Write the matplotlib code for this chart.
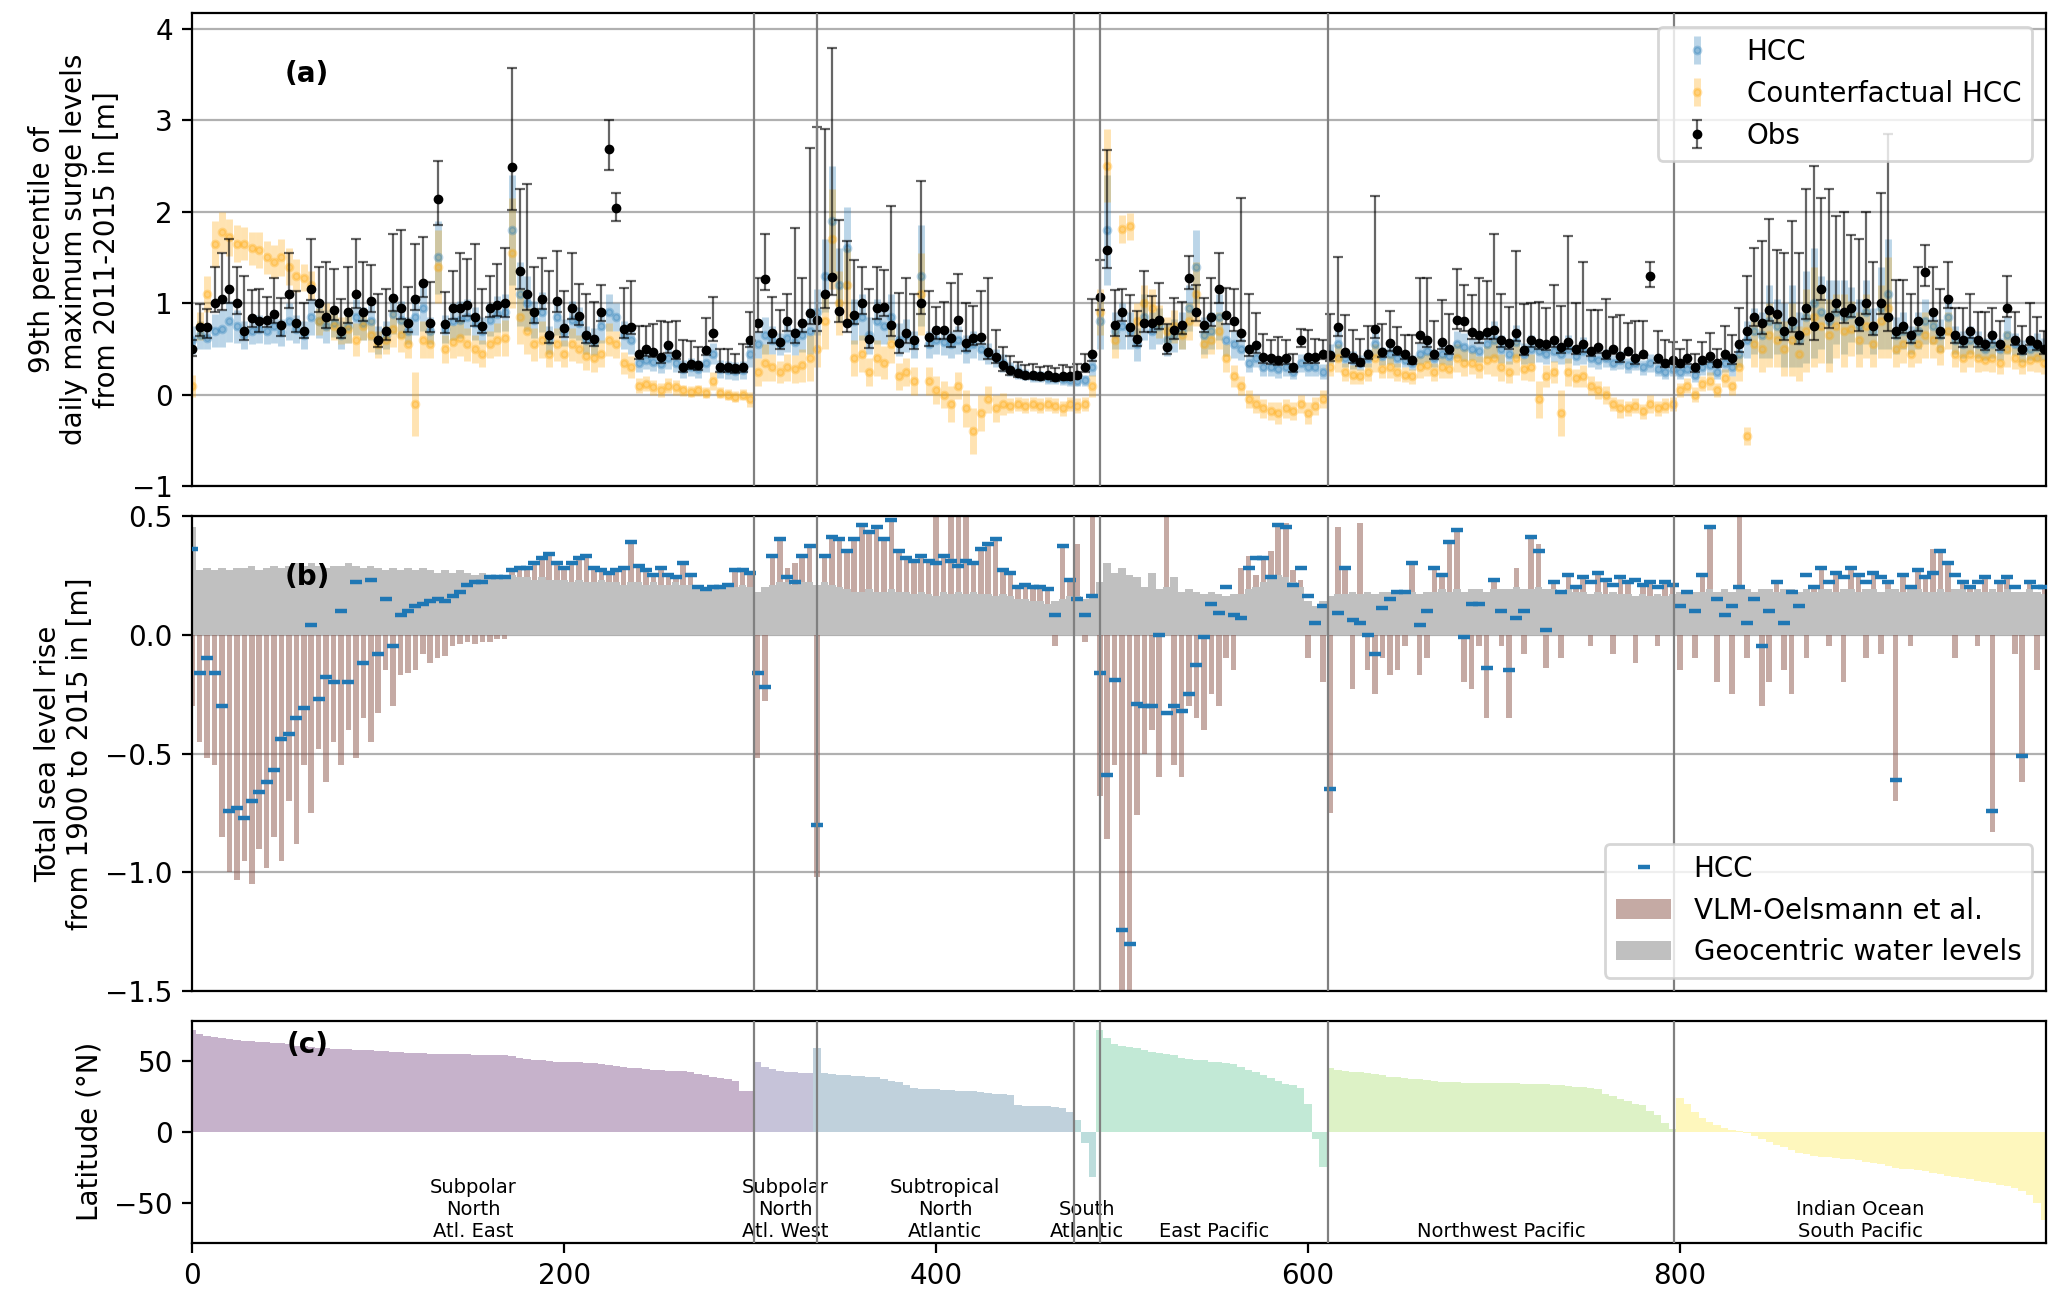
import numpy as np
import matplotlib.pyplot as plt

plt.rcParams['font.size'] = 10

# regions along the x axis (station index)
region_names = ['Subpolar\nNorth\nAtl. East', 'Subpolar\nNorth\nAtl. West', 'Subtropical\nNorth\nAtlantic',
                'South\nAtlantic', 'East Pacific', 'Northwest Pacific', 'Indian Ocean\nSouth Pacific']
region_edges = [0, 302, 336, 474, 488, 611, 797, 997]
region_counts = [76, 8, 35, 3, 31, 47, 50]   # samples read per region (every 4th station)
station_step = 4

# ---- panel (a): 99th percentile surge levels, cm ----
obs = [50, 74, 74, 100, 105, 115, 100, 70, 84, 80, 82, 88, 76, 110, 78, 70, 115, 100, 85, 92,
       70, 90, 110, 90, 102, 60, 70, 106, 95, 78, 105, 122, 78, 214, 77, 95, 95, 98, 85, 75,
       95, 98, 100, 249, 135, 110, 90, 104, 65, 102, 73, 95, 86, 65, 61, 90, 268, 204, 72, 74,
       45, 50, 47, 41, 54, 45, 30, 34, 32, 49, 67, 30, 30, 29, 30, 60,
       78, 126, 67, 58, 80, 67, 78, 89,
       82, 110, 129, 91, 78, 87, 100, 61, 95, 96, 76, 56, 67, 60, 100, 63, 71, 71, 62, 82,
       56, 62, 63, 47, 41, 32, 27, 24, 22, 21, 20, 21, 19, 20, 20,
       22, 30, 45,
       107, 158, 76, 90, 74, 61, 78, 78, 82, 52, 71, 76, 127, 90, 76, 85, 115, 87, 80, 67,
       50, 54, 41, 40, 38, 40, 30, 60, 41, 41, 45,
       43, 74, 47, 41, 36, 45, 72, 47, 56, 49, 45, 38, 65, 60, 45, 58, 50, 82, 80, 69,
       65, 69, 71, 60, 56, 67, 49, 60, 56, 55, 60, 52, 58, 50, 55, 48, 52, 45, 50,
       42, 48, 40, 45, 130, 40, 35, 38,
       35, 40, 30, 38, 42, 35, 45, 40, 55, 70, 85, 78, 92, 88, 70, 80, 65, 95, 75, 115,
       85, 100, 90, 95, 80, 100, 75, 100, 85, 70, 75, 65, 80, 134, 90, 70, 105, 65, 60, 70,
       60, 55, 65, 55, 95, 60, 50, 60, 55, 50]
obs_dn = [8, 10, 12, 10, 12, 15, 12, 10, 10, 12, 8, 10, 12, 15, 10, 8, 12, 10, 12, 10,
          8, 12, 15, 10, 12, 8, 10, 15, 12, 10, 12, 15, 10, 29, 10, 12, 15, 12, 10, 8,
          10, 12, 15, 47, 20, 18, 12, 10, 8, 12, 10, 12, 10, 8, 8, 10, 23, 14, 10, 8,
          6, 8, 6, 6, 8, 6, 5, 6, 5, 6, 8, 5, 5, 5, 5, 8,
          10, 12, 10, 8, 10, 10, 10, 12,
          12, 15, 20, 12, 10, 10, 12, 10, 12, 10, 12, 10, 10, 10, 12, 10, 10, 10, 10, 12,
          8, 8, 8, 8, 6, 6, 5, 5, 4, 4, 4, 4, 4, 4, 4,
          4, 5, 8,
          15, 20, 12, 10, 10, 8, 10, 10, 10, 8, 10, 10, 12, 10, 8, 10, 15, 10, 10, 8,
          8, 8, 6, 6, 6, 6, 5, 8, 6, 6, 6,
          6, 10, 6, 6, 5, 6, 10, 6, 8, 6, 6, 5, 8, 8, 6, 8, 6, 10, 10, 8,
          8, 8, 10, 8, 6, 8, 6, 8, 6, 6, 8, 6, 8, 6, 8, 6, 6, 6, 5, 6,
          5, 6, 5, 12, 5, 5, 5,
          5, 6, 5, 5, 6, 5, 6, 6, 8, 10, 10, 12, 12, 10, 10, 12, 10, 12, 15, 12,
          12, 10, 12, 10, 10, 12, 10, 12, 15, 8, 8, 8, 10, 15, 10, 8, 10, 8, 8, 8,
          8, 6, 8, 6, 10, 6, 6, 6, 6, 6]
obs_up = [10, 25, 20, 40, 50, 55, 40, 60, 30, 35, 25, 40, 30, 45, 35, 30, 55, 40, 60, 45,
          35, 50, 60, 55, 40, 50, 45, 70, 85, 40, 60, 50, 45, 41, 35, 40, 60, 50, 80, 40,
          35, 45, 60, 108, 90, 120, 50, 45, 70, 55, 40, 60, 35, 45, 40, 30, 32, 16, 45, 50,
          30, 25, 30, 40, 25, 35, 30, 25, 20, 35, 40, 20, 20, 15, 25, 30,
          50, 50, 40, 35, 30, 115, 50, 180,
          210, 180, 250, 100, 90, 60, 40, 55, 45, 40, 130, 55, 60, 50, 133, 50, 25, 30, 60, 50,
          44, 35, 50, 80, 30, 20, 15, 12, 10, 12, 10, 10, 10, 12, 10,
          12, 15, 60,
          40, 109, 38, 25, 35, 30, 57, 30, 40, 25, 35, 25, 24, 30, 30, 43, 40, 30, 35, 148,
          60, 35, 25, 20, 25, 20, 15, 12, 30, 20, 15,
          45, 76, 40, 30, 25, 30, 145, 30, 35, 25, 20, 27, 62, 68, 35, 45, 38, 55, 40, 40,
          63, 55, 105, 50, 40, 90, 50, 40, 45, 40, 60, 45, 115, 50, 90, 45, 40, 60, 35, 45,
          30, 40, 35, 15, 30, 25, 20,
          15, 20, 15, 20, 25, 15, 30, 25, 40, 60, 75, 90, 100, 70, 85, 110, 90, 130, 175, 100,
          140, 95, 110, 80, 90, 100, 70, 120, 200, 55, 50, 45, 60, 30, 50, 45, 40, 30, 35, 40,
          30, 35, 30, 25, 35, 30, 25, 40, 30, 20]
hcc = [60, 65, 62, 70, 72, 80, 75, 65, 70, 72, 70, 75, 68, 80, 72, 65, 85, 80, 75, 78,
       65, 75, 85, 78, 80, 60, 65, 88, 82, 70, 85, 95, 70, 150, 72, 80, 82, 85, 78, 70,
       82, 88, 90, 180, 110, 100, 82, 90, 60, 85, 68, 82, 78, 60, 58, 75, 90, 85, 65, 60,
       35, 38, 36, 34, 40, 35, 28, 30, 28, 35, 45, 28, 27, 26, 27, 45,
       55, 65, 60, 55, 62, 58, 65, 70,
       90, 130, 190, 120, 160, 80, 85, 65, 80, 75, 85, 60, 65, 55, 130, 55, 60, 58, 55, 60,
       50, 55, 50, 45, 40, 35, 28, 25, 22, 20, 20, 18, 18, 17, 16,
       15, 16, 30,
       80, 180, 70, 75, 70, 55, 85, 70, 75, 60, 65, 70, 95, 140, 65, 70, 85, 60, 55, 50,
       35, 40, 30, 30, 28, 30, 25, 35, 30, 30, 25,
       45, 55, 40, 38, 35, 40, 55, 42, 45, 40, 38, 35, 45, 48, 40, 45, 42, 55, 52, 50,
       48, 55, 60, 50, 45, 58, 45, 50, 48, 45, 48, 45, 50, 42, 48, 40, 38, 40, 35, 38,
       32, 35, 30, 35, 28, 25, 28,
       25, 28, 22, 30, 32, 25, 35, 30, 45, 60, 70, 65, 80, 75, 65, 75, 60, 85, 100, 90,
       80, 90, 85, 88, 75, 90, 70, 95, 110, 65, 70, 60, 70, 80, 75, 65, 85, 60, 55, 60,
       55, 50, 55, 50, 65, 55, 48, 50, 52, 50]
hcc_err = [15, 15, 12, 18, 20, 22, 18, 15, 15, 15, 15, 18, 15, 20, 15, 15, 20, 18, 18, 15,
           15, 18, 20, 18, 20, 15, 15, 22, 20, 15, 20, 25, 15, 40, 15, 20, 20, 20, 18, 15,
           18, 20, 20, 60, 35, 30, 20, 22, 15, 20, 15, 20, 18, 15, 15, 18, 20, 15, 15, 15,
           10, 10, 10, 10, 12, 10, 10, 10, 10, 10, 12, 10, 10, 10, 10, 15,
           15, 20, 15, 12, 15, 15, 18, 25,
           25, 40, 60, 40, 45, 25, 25, 20, 25, 20, 25, 18, 18, 15, 55, 15, 15, 15, 15, 15,
           15, 15, 12, 12, 10, 10, 8, 8, 6, 6, 6, 6, 6, 6, 6,
           6, 6, 10,
           30, 60, 20, 25, 20, 18, 25, 20, 20, 18, 18, 20, 25, 40, 20, 20, 25, 18, 15, 12,
           10, 10, 10, 10, 10, 10, 8, 10, 10, 10, 8,
           10, 18, 10, 10, 8, 10, 15, 10, 12, 10, 8, 8, 12, 12, 10, 12, 10, 15, 15, 12,
           12, 15, 20, 15, 12, 18, 12, 15, 12, 12, 12, 12, 15, 10, 15, 10, 10, 10, 8, 10,
           8, 8, 8, 10, 8, 8, 8,
           8, 8, 8, 8, 10, 8, 10, 10, 15, 20, 25, 25, 40, 30, 35, 45, 30, 50, 60, 40,
           45, 35, 40, 30, 30, 35, 25, 45, 60, 20, 20, 15, 20, 25, 20, 18, 20, 15, 15, 15,
           15, 12, 15, 12, 20, 12, 12, 12, 15, 12]
cf = [10, 75, 110, 165, 178, 172, 165, 165, 160, 158, 150, 145, 150, 140, 130, 128, 120, 80, 85, 75,
      70, 72, 60, 75, 65, 55, 60, 72, 65, 55, -10, 60, 55, 140, 50, 58, 62, 55, 50, 45,
      55, 60, 62, 155, 85, 70, 55, 60, 45, 55, 45, 55, 50, 42, 40, 45, 60, 55, 35, 30,
      10, 12, 8, 5, 10, 8, 5, 3, 5, 2, 15, 2, 0, -2, 0, -5,
      25, 35, 30, 25, 30, 28, 32, 40,
      50, 80, 170, 100, 120, 40, 45, 25, 40, 35, 55, 20, 25, 15, 110, 15, 5, 0, -10, 10,
      -15, -40, -20, -5, -15, -10, -12, -10, -12, -10, -12, -10, -12, -15, -10,
      -12, -10, 10,
      90, 250, 60, 181, 184, 80, 100, 95, 80, 70, 75, 65, 80, 110, 55, 60, 70, 40, 20, 10,
      -5, -10, -15, -18, -20, -15, -18, -10, -20, -12, -5,
      30, 40, 25, 22, 20, 25, 40, 28, 30, 25, 22, 20, 30, 32, 25, 30, 28, 40, 35, 35,
      30, 38, 40, 30, 25, 40, 28, 30, -5, 20, 25, -20, 25, 18, 20, 10, 5, 0, -10, -15,
      -15, -12, -18, -10, -15, -12, -10,
      5, 10, 0, 12, 15, 5, 18, 10, 30, -45, 55, 50, 65, 60, 50, 60, 45, 70, 85, 75,
      65, 75, 70, 72, 60, 75, 55, 80, 95, 50, 55, 45, 55, 65, 60, 50, 70, 45, 40, 45,
      40, 38, 40, 35, 50, 40, 35, 38, 40, 35]
cf_err = [12, 15, 20, 25, 22, 20, 20, 18, 18, 20, 18, 18, 20, 20, 18, 15, 15, 15, 15, 15,
          15, 15, 18, 15, 18, 15, 15, 20, 18, 15, 35, 20, 15, 40, 15, 18, 20, 18, 15, 15,
          15, 18, 20, 60, 30, 25, 18, 20, 15, 18, 15, 18, 15, 15, 15, 15, 18, 15, 12, 12,
          8, 8, 8, 8, 8, 8, 6, 6, 6, 6, 10, 6, 6, 6, 6, 8,
          15, 20, 15, 12, 15, 15, 18, 25,
          20, 30, 55, 35, 40, 20, 20, 15, 20, 18, 20, 15, 15, 15, 45, 15, 15, 15, 20, 15,
          20, 25, 20, 15, 15, 12, 8, 8, 8, 8, 8, 8, 8, 8, 8,
          8, 8, 12,
          25, 40, 20, 15, 15, 20, 20, 20, 18, 15, 18, 15, 20, 35, 15, 15, 20, 15, 12, 10,
          10, 10, 10, 10, 12, 10, 10, 10, 12, 10, 10,
          10, 15, 10, 10, 8, 10, 15, 10, 12, 10, 8, 8, 12, 12, 10, 12, 10, 15, 15, 12,
          12, 15, 20, 15, 12, 18, 12, 15, 20, 12, 12, 25, 15, 10, 12, 10, 10, 10, 8, 10,
          8, 8, 8, 10, 8, 8, 8,
          8, 8, 8, 8, 10, 8, 10, 10, 15, 10, 25, 25, 35, 30, 30, 40, 30, 45, 55, 40,
          40, 35, 40, 30, 30, 35, 25, 40, 55, 20, 20, 15, 20, 25, 20, 18, 20, 15, 15, 15,
          15, 12, 15, 12, 20, 12, 12, 12, 15, 12]

# ---- panel (b): total sea level rise 1900-2015, cm ----
geo = [45, 27, 28, 27, 28, 27, 28, 28, 29, 27, 28, 29, 28, 29, 30, 29, 30, 29, 28, 29,
       29, 30, 29, 28, 29, 28, 27, 28, 27, 28, 27, 28, 27, 26, 27, 26, 27, 26, 25, 26,
       25, 25, 24, 25, 24, 24, 23, 24, 23, 23, 23, 22, 23, 22, 22, 23, 22, 22, 21, 22,
       22, 21, 22, 21, 21, 22, 21, 21, 21, 20, 21, 20, 21, 20, 21, 20,
       18, 20, 21, 22, 22, 21, 22, 22,
       21, 22, 21, 20, 19, 18, 18, 19, 18, 18, 19, 18, 18, 17, 18, 17, 16, 18, 17, 18,
       17, 18, 17, 17, 16, 17, 16, 15, 15, 14, 14, 13, 14, 15, 16,
       16, 15, 17,
       22, 30, 26, 28, 25, 24, 20, 26, 19, 20, 24, 18, 19, 18, 17, 18, 17, 16, 17, 17,
       19, 20, 22, 24, 25, 24, 22, 20, 14, 12, 14,
       16, 17, 17, 18, 17, 18, 17, 18, 18, 17, 18, 18, 17, 18, 18, 19, 18, 19, 18, 19,
       19, 18, 19, 19, 19, 20, 19, 19, 20, 19, 19, 18, 19, 18, 18, 17, 18, 17, 18, 17,
       17, 16, 17, 16, 17, 16, 17,
       18, 17, 18, 18, 19, 18, 19, 18, 19, 19, 18, 19, 19, 18, 19, 19, 18, 19, 18, 19,
       19, 18, 19, 19, 18, 19, 19, 18, 19, 19, 18, 19, 19, 18, 18, 19, 18, 19, 19, 18,
       19, 18, 19, 18, 19, 18, 18, 19, 18, 17]
vlm = [-30, -45, -52, -55, -85, -100, -103, -95, -105, -90, -98, -85, -95, -70, -88, -55, -75, -48, -62, -45,
       -55, -40, -52, -35, -45, -33, -15, -30, -17, -16, -15, -8, -12, -10, -9, -5, -4, -3, -4, -3,
       -3, -2, -2, 27, 28, 28, 30, 32, 34, 30, 28, 30, 32, 33, 28, 27, 26, 27, 28, 39,
       29, 27, 25, 28, 25, 24, 30, 25, 20, 19, 20, 20, 21, 27, 27, 26,
       -52, -28, 33, 40, 28, 30, 33, 37,
       -102, 33, 41, 40, 35, 40, 46, 43, 45, 40, 48, 35, 32, 31, 33, 31, 60, 33, 60, 60,
       55, 30, 36, 38, 40, 27, 26, 20, 21, 20, 20, 19, -5, 37, 23,
       38, -3, 60,
       -68, -86, -55, -150, -150, -76, -50, -40, -60, 50, -55, -60, -30, -35, -40, -25, -30, -10, -15, 28,
       33, 25, 32, 35, 45, 47, 27, 23, -10, 12, -20,
       -75, 45, 28, -23, 47, -15, -25, -10, -17, -15, -5, 30, -17, -10, 28, 25, 39, 44, -20, -23,
       -5, -35, 23, -5, -35, 28, -8, 41, 38, -14, 22, -10, 25, 20, 24, -5, 26, 23, -8, 24,
       22, -12, 21, 22, -5, 22, 21,
       -15, 18, -10, 25, 45, -20, 8, -25, 60, -10, 15, -30, -20, 22, -15, -25, 12, -10, 20, 28,
       -5, 26, -20, 28, 25, -10, 26, -8, 22, -70, 25, -5, 27, 24, 36, 35, 30, -10, 22, 20,
       -5, 24, -83, 22, 24, -8, -62, 22, -15, 20]
hcc_slr = [36, -16, -10, -16, -30, -74, -73, -77, -70, -66, -62, -57, -44, -42, -35, -31, 4, -27, -18, -20,
           10, -20, 22, -12, 23, -8, 15, -5, 8, 10, 12, 13, 14, 15, 14, 16, 18, 21, 22, 22,
           24, 24, 24, 27, 28, 28, 30, 32, 34, 30, 28, 30, 32, 33, 28, 27, 26, 27, 28, 39,
           29, 27, 25, 28, 25, 24, 30, 25, 20, 19, 20, 20, 21, 27, 27, 26,
           -16, -22, 33, 40, 24, 22, 33, 37,
           -80, 33, 41, 40, 35, 40, 46, 43, 45, 40, 48, 35, 32, 31, 33, 31, 30, 33, 31, 29,
           31, 30, 36, 38, 40, 27, 26, 20, 21, 20, 20, 19, 8, 37, 23,
           15, 8, 16,
           -16, -59, -19, -124, -130, -29, -30, -30, 0, -33, -30, -32, -25, -13, -1, 13, 9, 20, 8, 7,
           28, 32, 32, 24, 46, 45, 21, 28, 16, 5, 12,
           -65, 9, 28, 6, 5, 0, -8, 11, 15, 18, 18, 30, 4, 10, 28, 25, 39, 44, -1, 13,
           13, -14, 23, 10, -15, 7, 10, 41, 35, 2, 22, 18, 25, 20, 24, 22, 26, 23, 21, 24,
           22, 23, 21, 22, 20, 22, 21,
           12, 18, 10, 25, 45, 15, 8, 12, 20, 5, 15, -5, 10, 22, 5, 18, 12, 25, 20, 28,
           22, 26, 24, 28, 25, 22, 26, 24, 22, -61, 25, 20, 27, 24, 26, 35, 30, 25, 22, 20,
           22, 24, -74, 22, 24, 20, -51, 22, 20, 20]

# ---- panel (c): station latitude ----
lat = [72, 69, 68, 67, 66, 65.5, 65, 64.5, 64, 63.5, 63.3, 63, 62.5, 62, 61, 60.5, 60, 59.5, 59, 58.7,
       58.5, 58.3, 58, 57.7, 57.5, 57.2, 57, 56.7, 56.4, 56, 55.7, 55.5, 55.3, 55.2, 55, 54.9, 54.8, 54.7, 54.6, 54.5,
       54.4, 54.3, 54.2, 53.5, 52.5, 51.5, 51, 50.5, 50, 49.7, 49.5, 49.3, 49, 48.8, 48.3, 47.8, 47, 46.2, 45.5, 45,
       44.8, 44.5, 44, 43.5, 43.2, 43, 42.9, 42, 41, 40, 39, 38, 37, 36, 29, 28.5,
       49, 46, 44.5, 43, 42.5, 42, 41.7, 41.5,
       59, 41.5, 41, 40.5, 40, 39.8, 39.5, 39, 38.5, 37, 36, 35, 33, 31, 30.5, 30, 30, 29.8, 29.5, 29,
       28.8, 28.5, 28, 27.5, 27, 26.5, 26, 19, 18.5, 18.5, 18, 18, 17.5, 16.5, 14,
       8, -8, -32,
       72, 66, 62, 60.5, 60, 59, 58, 56.5, 55.5, 55, 54.5, 52, 51.5, 51, 50.5, 49.5, 49, 48.5, 48, 46,
       44, 42, 40, 38, 36, 34, 33, 31, 20, -5, -25,
       45, 44, 43, 42.5, 42, 41.5, 41, 40, 39, 38.5, 38, 37.5, 37, 36.5, 36, 35.5, 35, 35, 34.8, 34.8,
       34.6, 34.5, 34.5, 34.3, 34.2, 34.2, 34, 34, 33.8, 33.6, 33.3, 33, 32.5, 32, 31.5, 31, 30, 27, 25, 23,
       22, 20, 19, 15, 12, 6, 2,
       24, 20, 14, 10, 7, 5, 3, 1.5, 0.5, -1, -3, -5, -7, -9, -11, -13, -15, -16, -17, -17.5,
       -18, -18.5, -19, -19.5, -20, -21, -22, -23, -24, -25.5, -26, -26.5, -27, -28, -29, -30, -31, -32, -32.5, -33.5,
       -34.5, -35.5, -36.5, -37.5, -38.5, -40, -42, -45, -50, -62]

n = sum(region_counts)
station = np.arange(n) * station_step
m = lambda v: np.array(v) / 100.0
region_idx = np.repeat(np.arange(len(region_counts)), region_counts)

fig = plt.figure(figsize=(10.335, 6.48), dpi=200)
gs = fig.add_gridspec(3, 1, height_ratios=[358, 360, 168], hspace=0.075,
                      left=0.093, right=0.99, top=0.99, bottom=0.041)
ax_a = fig.add_subplot(gs[0])
ax_b = fig.add_subplot(gs[1], sharex=ax_a)
ax_c = fig.add_subplot(gs[2], sharex=ax_a)

# (a)
ax_a.errorbar(station, m(hcc), yerr=m(hcc_err), fmt='o', color='tab:blue', ms=2.5, elinewidth=2.5,
              alpha=0.3, label='HCC', zorder=2)
ax_a.errorbar(station, m(cf), yerr=m(cf_err), fmt='o', color='orange', ms=2.5, elinewidth=2.5,
              alpha=0.3, label='Counterfactual HCC', zorder=2)
ax_a.errorbar(station, m(obs), yerr=[m(obs_dn), m(obs_up)], fmt='o', color='k', ms=2.5,
              ecolor=(0, 0, 0, 0.6), elinewidth=0.8, capsize=1.8, capthick=0.8, label='Obs', zorder=3)
ax_a.set_ylim(-1, 4.17)
ax_a.set_yticks([-1, 0, 1, 2, 3, 4])
ax_a.set_ylabel('99th percentile of\ndaily maximum surge levels\nfrom 2011-2015 in [m]')
ax_a.legend(loc='upper right')

# (b)
ax_b.bar(station, m(vlm), width=3, color='tab:brown', alpha=0.5, linewidth=0,
         label='VLM-Oelsmann et al.', zorder=2)
ax_b.bar(station, m(geo), width=station_step, color='silver', linewidth=0,
         label='Geocentric water levels', zorder=2.5)
ax_b.plot(station, m(hcc_slr), '_', color='tab:blue', ms=4, mew=1.6, label='HCC', zorder=4)
ax_b.set_ylim(-1.5, 0.5)
ax_b.set_yticks([-1.5, -1.0, -0.5, 0.0, 0.5])
ax_b.set_ylabel('Total sea level rise\nfrom 1900 to 2015 in [m]')
h, l = ax_b.get_legend_handles_labels()
order = [l.index('HCC'), l.index('VLM-Oelsmann et al.'), l.index('Geocentric water levels')]
ax_b.legend([h[i] for i in order], [l[i] for i in order], loc='lower right')

# (c)
cols = plt.cm.viridis(np.linspace(0, 1, len(region_counts)))
ax_c.bar(station, lat, width=station_step, color=cols[region_idx], alpha=0.3, linewidth=0)
ax_c.set_ylim(-78.5, 78.5)
ax_c.set_yticks([-50, 0, 50])
ax_c.set_ylabel('Latitude (°N)')
for k, name in enumerate(region_names):
    xc = 0.5 * (region_edges[k] + region_edges[k + 1])
    ax_c.text(xc, 0.01, name, ha='center', va='bottom', fontsize=7, linespacing=1.2,
              transform=ax_c.get_xaxis_transform())

for ax, lab in [(ax_a, '(a)'), (ax_b, '(b)'), (ax_c, '(c)')]:
    for e in region_edges[1:-1]:
        ax.axvline(e, color='grey', lw=0.8, zorder=5)
    ax.text(0.062, 0.87 if ax is not ax_c else 0.89, lab, transform=ax.transAxes,
            ha='center', va='center', fontweight='bold', zorder=6)

for ax in (ax_a, ax_b):
    ax.grid(axis='y')
    ax.set_axisbelow(True)
    ax.tick_params(axis='x', bottom=False, labelbottom=False)

ax_c.set_xlim(0, region_edges[-1])
ax_c.set_xticks([0, 200, 400, 600, 800])

fig.savefig('out.png', dpi=200)
